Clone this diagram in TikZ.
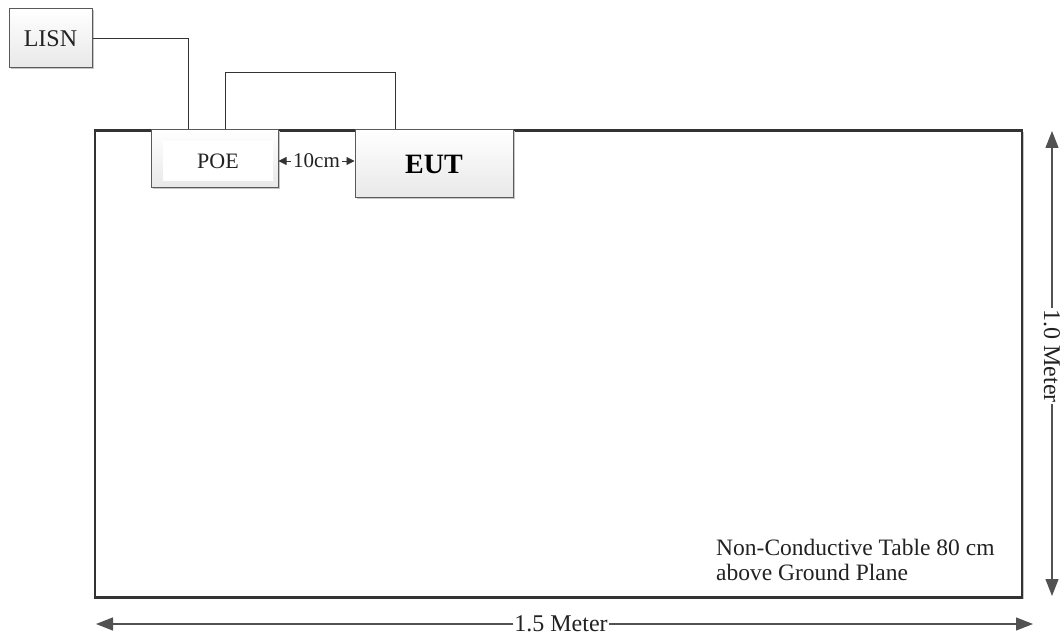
\documentclass[tikz,border=0pt]{standalone}
\usepackage{fontspec}
\setmainfont{Liberation Serif}
\usetikzlibrary{arrows.meta,shadows,calc}
\definecolor{ink}{HTML}{333333}
\definecolor{txt}{HTML}{222222}
\definecolor{frame}{HTML}{5A5A5A}
\tikzset{
  wire/.style={draw=ink, line width=1.3pt},
  devbox/.style={draw=frame, line width=1pt, top color=white, bottom color=gray!18,
    drop shadow={shadow xshift=1.5pt, shadow yshift=-1.5pt, fill=gray!45, opacity=1},
    inner sep=0pt, text=txt},
  tablebox/.style={draw=ink, line width=2.4pt, fill=white,
    drop shadow={shadow xshift=1.5pt, shadow yshift=-1.5pt, fill=gray!45, opacity=1}},
  dimarrow/.style={draw=ink!85, line width=1.2pt, {Triangle[length=17pt,width=13pt]}-{Triangle[length=17pt,width=13pt]}},
  smallarrow/.style={draw=ink, line width=0.8pt, {Triangle[length=8pt,width=8pt]}-{Triangle[length=8pt,width=8pt]}},
  lbl/.style={fill=white, inner sep=1pt, text=txt, font=\fontsize{24}{26}\selectfont}
}
\begin{document}
\begin{tikzpicture}[x=1pt,y=-1pt]
\useasboundingbox (0,0) rectangle (1062,636);
% table
\node[tablebox, minimum width=927pt, minimum height=467pt] (tbl) at (558.5,364) {};
% devices
\node[devbox, minimum width=83pt, minimum height=59pt, font=\fontsize{24}{26}\selectfont] (lisn) at (50.5,38.5) {LISN};
\node[devbox, minimum width=127pt, minimum height=58pt] (poe) at (214.5,159) {};
\node[fill=white, inner sep=0pt, minimum width=110pt, minimum height=40pt, font=\fontsize{22}{24}\selectfont, text=txt] (poetext) at (218,161) {POE};
\node[devbox, minimum width=158pt, minimum height=68pt, font=\fontsize{28}{30}\selectfont\bfseries, text=black] (eut) at (434,164) {EUT};
% wires
\draw[wire] (lisn.east) -| ($(poe.north west)+(38,0)$);
\draw[wire] ($(poe.north west)+(75,0)$) -- ++(0,-57) -| ($(eut.north west)+(41,0)$);
% 10 cm
\draw[smallarrow] (poe.east |- 0,161) -- (eut.west |- 0,161)
  node[midway, fill=white, inner sep=0pt, minimum width=51pt, text=txt, font=\fontsize{21}{22}\selectfont] (tencm) {10cm};
% dimensions
\coordinate (rt) at (1052,131);
\coordinate (rb) at (1052,596);
\draw[dimarrow] (rt) -- (rb);
\node[lbl, rotate=-90] (hlab) at (1052,356) {1.0 Meter};
\coordinate (bl) at (96,624);
\coordinate (br) at (1033,624);
\draw[dimarrow] (bl) -- (br);
\node[lbl] (wlab) at (561,624) {1.5 Meter};
% table caption
\node[anchor=north west, align=left, inner sep=0pt, text=txt, font=\fontsize{23.5}{25}\selectfont] (cap) at (716,539) {Non-Conductive Table 80 cm\\above Ground Plane};
\end{tikzpicture}
\end{document}
